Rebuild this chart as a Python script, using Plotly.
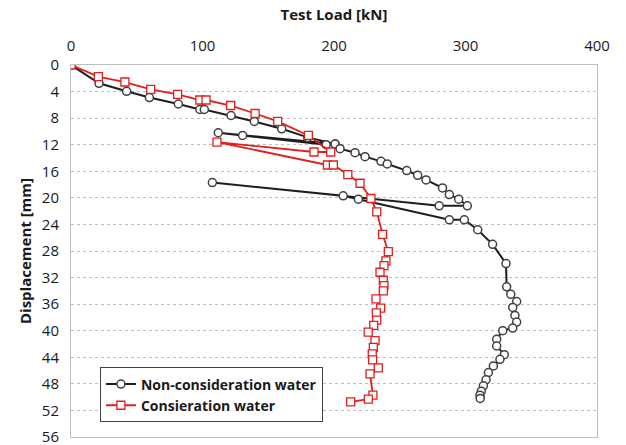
import plotly.graph_objects as go

# Non-consideration water (black, circles)
black_load = [0, 21.3, 42.3, 59.6, 81.6, 98, 101.4, 121.7, 139.4, 160.2, 180, 201, 194, 130.5, 112,
              200.8, 204.6, 216, 223.6, 235.7, 240.5, 255.3, 263.6, 270, 282.5, 287.7, 294.8, 301.4,
              280, 107.5, 207, 218.5, 287.7, 299.1, 309.3, 320.6, 330.8, 331.3, 334.4, 338.9, 335.9,
              337.6, 338.9, 335.9, 328.3, 323.7, 323.7, 329.5, 326.2, 321.2, 317.4, 315.6, 313.6,
              312, 311, 311.2]
black_disp = [0, 2.76, 3.96, 4.9, 5.87, 6.7, 6.7, 7.6, 8.5, 9.6, 10.9, 11.9, 12.0, 10.6, 10.2,
              11.9, 12.6, 13.2, 13.8, 14.5, 14.9, 15.9, 16.6, 17.3, 18.5, 19.5, 20.2, 21.2,
              21.2, 17.7, 19.7, 20.2, 23.3, 23.3, 24.8, 27.0, 29.9, 33.4, 34.5, 35.6, 36.5,
              37.7, 38.7, 39.6, 40.0, 41.3, 42.3, 43.6, 44.3, 45.3, 46.3, 47.4, 48.3,
              49.1, 49.7, 50.2]

# Consieration water (red, squares)
red_load = [0, 20.8, 41, 60.6, 81.1, 98, 102.7, 121.4, 140, 157.2, 180.5, 197.5, 184.8, 111,
            195, 199.5, 210.5, 219.8, 228.1, 232.5, 237, 241.3, 239.5, 238, 235, 237.5, 238, 237.5,
            231.9, 235.5, 232.2, 232.5, 230.2, 226, 231.2, 229.9, 229.1, 229.4, 233.7, 227.4,
            229.6, 226.1, 212.7]
red_disp = [0, 1.76, 2.56, 3.66, 4.42, 5.27, 5.27, 6.1, 7.3, 8.5, 10.6, 13.1, 13.1, 11.6,
            15.05, 15.05, 16.5, 17.8, 20.1, 22.1, 25.5, 28.1, 29.5, 30.2, 31.2, 32.4, 33.2, 34.0,
            35.2, 36.6, 37.3, 38.4, 39.2, 40.2, 41.5, 42.5, 43.5, 44.4, 45.6, 46.5,
            49.7, 50.3, 50.7]

x_ticks = [0, 100, 200, 300, 400]
y_ticks = list(range(0, 57, 4))

FONT = "Open Sans, Noto Sans, sans-serif"

fig = go.Figure()
fig.add_trace(go.Scatter(
    x=black_load, y=black_disp, mode="lines+markers", name="Non-consideration water",
    line=dict(color="#1e1e1e", width=2),
    marker=dict(symbol="circle", size=8, color="white", line=dict(color="#404040", width=1.5)),
))
fig.add_trace(go.Scatter(
    x=red_load, y=red_disp, mode="lines+markers", name="Consieration water",
    line=dict(color="#e0201e", width=1.8),
    marker=dict(symbol="square", size=8, color="white", line=dict(color="#e0201e", width=1.3)),
))

fig.update_layout(
    width=626, height=445,
    margin=dict(l=71, r=29, t=65, b=8, autoexpand=False),
    paper_bgcolor="white", plot_bgcolor="white",
    font=dict(family=FONT, size=15, color="#1a1a1a"),
    showlegend=True,
    legend=dict(
        x=0.055, y=0.187, xanchor="left", yanchor="top",
        bgcolor="white", bordercolor="#404040", borderwidth=1,
        font=dict(family=FONT, size=14, color="#1a1a1a", weight="bold"),
        itemwidth=30, tracegroupgap=0,
    ),
    xaxis=dict(
        side="top", range=[0, 400], tickvals=x_ticks,
        showgrid=False, zeroline=False,
        showline=True, linecolor="#bfbfbf", linewidth=1, mirror=True,
        ticks="", tickfont=dict(size=15), ticklabelstandoff=7,
        title=dict(text="Test Load [kN]", font=dict(size=15, weight="bold"), standoff=10),
    ),
    yaxis=dict(
        range=[56, 0], tickvals=y_ticks,
        showgrid=True, gridcolor="#bfbfbf", griddash="dot", gridwidth=1,
        zeroline=False,
        showline=True, linecolor="#bfbfbf", linewidth=1, mirror=True,
        ticks="", tickfont=dict(size=15), ticklabelstandoff=8,
        ticklabeloverflow="allow",
        title=dict(text="Displacement [mm]", font=dict(size=15, weight="bold"), standoff=6),
    ),
)

fig.write_html("out.html")
